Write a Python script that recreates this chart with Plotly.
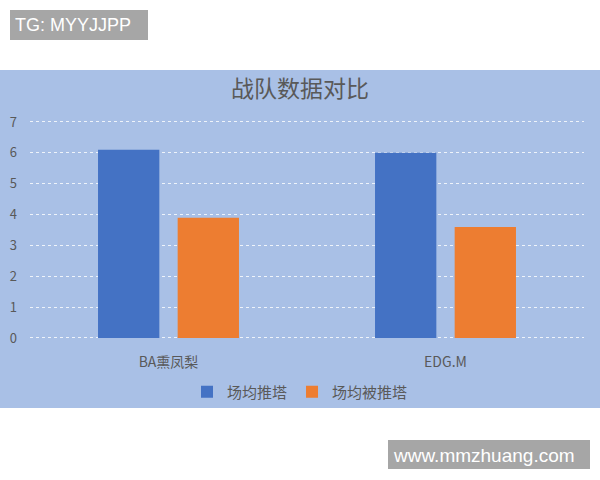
import plotly.graph_objects as go

categories = ["BA熏凤梨", "EDG.M"]
series_names = ["场均推塔", "场均被推塔"]
push_towers = [6.1, 6.0]
pushed_towers = [3.9, 3.6]
y_ticks = [0, 1, 2, 3, 4, 5, 6, 7]

W, H = 600, 480
def px(y):
    return 1 - y / H

FONT = "Noto Sans CJK SC, Open Sans, sans-serif"
TXT = "#595959"
UNIT = 216 / 7.0
PAD = 0.12

fig = go.Figure()
fig.add_trace(go.Bar(x=categories, y=push_towers, name=series_names[0],
                     marker=dict(color="#4472c4", line=dict(width=0))))
fig.add_trace(go.Bar(x=categories, y=pushed_towers, name=series_names[1],
                     marker=dict(color="#ed7d31", line=dict(width=0))))

fig.update_layout(
    width=W, height=H,
    margin=dict(l=0, r=0, t=0, b=0, autoexpand=False),
    paper_bgcolor="white",
    plot_bgcolor="rgba(0,0,0,0)",
    barmode="group",
    bargap=0.425,
    bargroupgap=0.23,
    font=dict(family=FONT, color=TXT, size=13),
    xaxis=dict(domain=[30 / W, 584 / W], showgrid=False, zeroline=False, automargin=False,
               showline=False, ticks="", ticklabelstandoff=int(round(6 + PAD * UNIT)),
               tickfont=dict(size=14, color=TXT)),
    yaxis=dict(domain=[px(338 + PAD * UNIT), px(122 - PAD * UNIT)], range=[-PAD, 7 + PAD],
               tickvals=y_ticks, automargin=False,
               showgrid=True, gridcolor="rgba(255,255,255,0.8)", griddash="dot",
               gridwidth=1, zeroline=False, showline=False, ticks="",
               ticklabelstandoff=12, tickfont=dict(size=13, color=TXT)),
    legend=dict(orientation="h", x=0.5, xanchor="center", y=px(392), yanchor="middle",
                bgcolor="rgba(0,0,0,0)", font=dict(size=15, color=TXT),
                itemwidth=30, traceorder="normal"),
    shapes=[
        dict(type="rect", xref="paper", yref="paper", x0=0, x1=1, y0=px(408), y1=px(70),
             fillcolor="#a9c0e6", line=dict(width=0), layer="below"),
        dict(type="rect", xref="paper", yref="paper", x0=10 / W, x1=148 / W, y0=px(40), y1=px(10),
             fillcolor="#a6a6a6", line=dict(width=0), layer="above"),
        dict(type="rect", xref="paper", yref="paper", x0=388 / W, x1=590 / W, y0=px(469), y1=px(440),
             fillcolor="#a6a6a6", line=dict(width=0), layer="above"),
    ],
    annotations=[
        dict(text="战队数据对比", xref="paper", yref="paper", x=0.5, y=px(87),
             xanchor="center", yanchor="middle", showarrow=False,
             font=dict(size=23, color=TXT, family=FONT)),
        dict(text="TG: MYYJJPP", xref="paper", yref="paper", x=13 / W, y=px(25),
             xanchor="left", yanchor="middle", showarrow=False,
             font=dict(size=18, color="white", family="Liberation Sans, Arial")),
        dict(text="www.mmzhuang.com", xref="paper", yref="paper", x=391 / W, y=px(455),
             xanchor="left", yanchor="middle", showarrow=False,
             font=dict(size=19, color="white", family="Liberation Sans, Arial")),
    ],
)

fig.write_html("out.html", config={"displayModeBar": False},
               post_script="document.body.style.margin='0px';")
